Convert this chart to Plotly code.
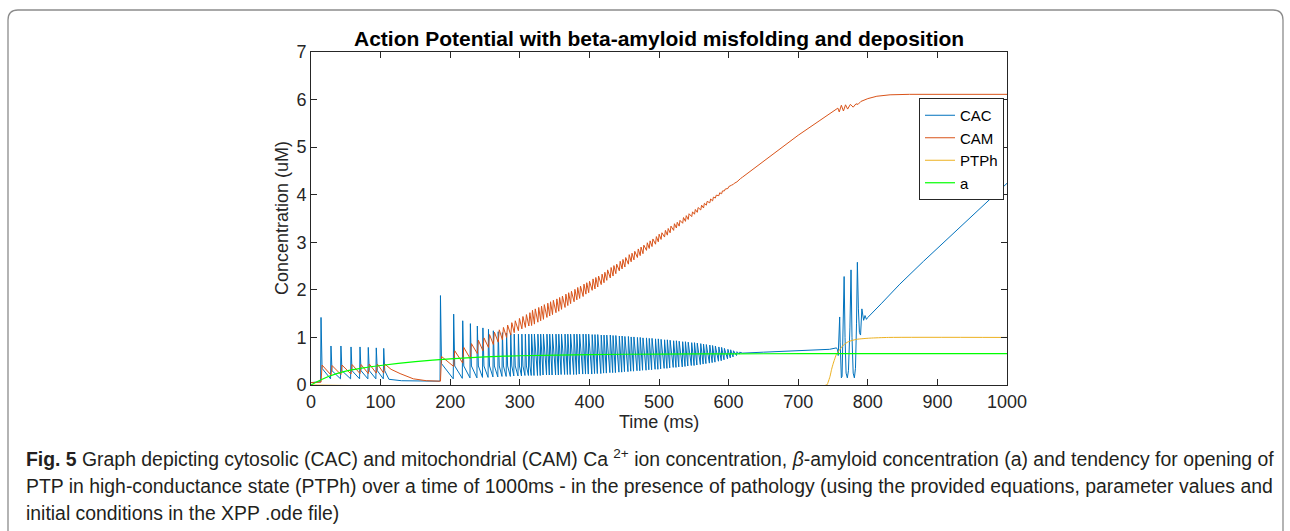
import plotly.graph_objects as go

# ---------------- data ----------------
# CAC (cytosolic Ca) : lead-in
cac_start_t = [0, 8]
cac_start_v = [0.05, 0.07]
# burst 1 spikes
cac_b1_t = [14.4, 28.7, 43.0, 57.5, 70.4, 82.3, 93.8, 104.5]
cac_b1_peak = [1.42, 0.82, 0.82, 0.80, 0.80, 0.79, 0.78, 0.77]
cac_b1_trough = [0.07, 0.13, 0.13, 0.13, 0.13, 0.13, 0.13, 0.13]
cac_b1_knee = [0.35, 0.30, 0.30, 0.30, 0.30, 0.30, 0.30, 0.30]
# quiet gap
cac_gap_t = [112, 130, 160, 184]
cac_gap_v = [0.12, 0.09, 0.08, 0.08]
# burst 2 spikes (sparse part)
cac_b2_t = [186, 205, 218, 229, 239, 247, 255, 262, 269, 275, 281, 287, 292, 298, 303, 308, 313]
cac_b2_peak = [1.88, 1.49, 1.35, 1.29, 1.24, 1.20, 1.17, 1.14, 1.12, 1.10, 1.09, 1.08, 1.07, 1.07, 1.07, 1.07, 1.07]
cac_b2_trough = [0.09, 0.13, 0.14, 0.15, 0.15, 0.16, 0.16, 0.17, 0.17, 0.18, 0.18, 0.18, 0.19, 0.19, 0.19, 0.20, 0.20]
cac_b2_knee = [0.45, 0.40, 0.40, 0.40, 0.40, 0.40, 0.40, 0.40, 0.40, 0.40, 0.40, 0.40, 0.40, 0.40, 0.40, 0.40, 0.40]
# dense spike train
dense_t = [317, 321, 326, 330, 334, 339, 343, 347, 352, 356, 360, 365, 369, 373, 378, 382, 386, 391, 395, 399,
           404, 408, 412, 417, 421, 425, 430,
           434, 438, 443, 447, 451, 456, 460, 464, 469, 473, 477,
           482, 486, 490, 495, 499, 503, 508, 512, 516, 521, 525,
           529, 534, 538, 542, 547, 551, 555, 560, 564, 568, 573,
           577, 581, 586, 590, 594, 599, 603, 607, 612, 616]
cac_dense_peak = [1.07, 1.07, 1.07, 1.07, 1.07, 1.07, 1.07, 1.07, 1.07, 1.07,
                  1.07, 1.07, 1.07, 1.07, 1.07, 1.07, 1.07, 1.07, 1.07, 1.07,
                  1.06, 1.06, 1.06, 1.05, 1.05, 1.05, 1.05,
                  1.04, 1.04, 1.03, 1.03, 1.02, 1.02, 1.01, 1.01, 1.00, 1.00, 0.99,
                  0.99, 0.98, 0.98, 0.97, 0.97, 0.96, 0.95, 0.95, 0.94, 0.93, 0.93,
                  0.92, 0.91, 0.91, 0.90, 0.89, 0.89, 0.88, 0.87, 0.86, 0.85, 0.84,
                  0.83, 0.82, 0.80, 0.79, 0.77, 0.75, 0.74, 0.72, 0.70, 0.69]
cac_dense_trough = [0.20, 0.20, 0.20, 0.20, 0.21, 0.21, 0.21, 0.21, 0.21, 0.21,
                    0.22, 0.22, 0.22, 0.22, 0.22, 0.22, 0.23, 0.23, 0.23, 0.23,
                    0.23, 0.24, 0.24, 0.24, 0.25, 0.25, 0.26,
                    0.26, 0.26, 0.27, 0.27, 0.28, 0.28, 0.29, 0.29, 0.30, 0.30, 0.31,
                    0.31, 0.32, 0.32, 0.33, 0.33, 0.34, 0.35, 0.35, 0.36, 0.37, 0.37,
                    0.38, 0.38, 0.39, 0.40, 0.41, 0.41, 0.42, 0.43, 0.44, 0.45, 0.46,
                    0.47, 0.48, 0.50, 0.51, 0.53, 0.55, 0.57, 0.59, 0.62, 0.65]
# tail after the train
cac_tail_t = [620, 650, 700, 745, 755, 756.5, 757.5, 759.6, 760.3, 761, 762, 763, 764.5, 766, 767.3, 768.8,
              770.6, 772.2, 774.3, 775.9, 777.3, 779, 780.7, 782.3, 783.8, 785, 786.5, 788, 789.6, 791.5,
              794, 796, 798, 800, 820, 846, 880, 920, 960, 1000]
cac_tail_v = [0.67, 0.69, 0.72, 0.75, 0.78, 0.74, 0.62, 1.43, 0.90, 0.30, 0.15, 0.18, 1.00, 2.28, 1.00, 0.25,
              0.15, 0.30, 1.20, 2.42, 1.00, 0.25, 0.15, 0.35, 1.30, 2.58, 1.60, 1.10, 1.05, 1.60,
              1.36, 1.46, 1.38, 1.42, 1.72, 2.12, 2.60, 3.15, 3.70, 4.24]

# CAM (mitochondrial Ca)
cam_start_t = [0]
cam_start_v = [0.05]
cam_b1_pre = [0.06, 0.21, 0.22, 0.23, 0.24, 0.24, 0.25, 0.25]
cam_b1_peak = [0.42, 0.41, 0.42, 0.43, 0.43, 0.44, 0.44, 0.44]
cam_gap_t = [115, 128, 147, 166, 180]
cam_gap_v = [0.33, 0.24, 0.13, 0.09, 0.08]
cam_b2_pre = [0.08, 0.39, 0.46, 0.55, 0.66, 0.72, 0.79, 0.85, 0.90, 0.95, 1.00, 1.05, 1.10, 1.14, 1.18, 1.21, 1.24]
cam_b2_peak = [0.60, 0.72, 0.79, 0.87, 0.94, 0.99, 1.06, 1.11, 1.16, 1.21, 1.26, 1.31, 1.35, 1.40, 1.44, 1.48, 1.52]
cam_dense_pre = [1.25, 1.28, 1.32, 1.35, 1.38, 1.42, 1.45, 1.48, 1.52, 1.55,
                 1.59, 1.63, 1.67, 1.71, 1.75, 1.79, 1.82, 1.86, 1.91, 1.94,
                 1.99, 2.02, 2.06, 2.11, 2.15, 2.20, 2.25,
                 2.29, 2.34, 2.40, 2.44, 2.48, 2.54, 2.59, 2.63, 2.68, 2.72, 2.76,
                 2.83, 2.87, 2.91, 2.96, 3.01, 3.06, 3.11, 3.15, 3.20, 3.25, 3.30,
                 3.34, 3.40, 3.44, 3.48, 3.54, 3.59, 3.63, 3.68, 3.72, 3.78, 3.83,
                 3.87, 3.93, 3.98, 4.02, 4.08, 4.13, 4.18, 4.22, 4.27, 4.33]
cam_dense_peak = [1.57, 1.60, 1.63, 1.66, 1.69, 1.72, 1.75, 1.78, 1.81, 1.84,
                  1.87, 1.91, 1.94, 1.97, 2.01, 2.05, 2.08, 2.12, 2.15, 2.18,
                  2.23, 2.26, 2.29, 2.33, 2.37, 2.42, 2.47,
                  2.51, 2.54, 2.60, 2.64, 2.68, 2.74, 2.77, 2.81, 2.86, 2.90, 2.94,
                  2.99, 3.03, 3.07, 3.12, 3.17, 3.20, 3.25, 3.29, 3.34, 3.39, 3.42,
                  3.46, 3.52, 3.56, 3.60, 3.64, 3.69, 3.73, 3.78, 3.82, 3.86, 3.91,
                  3.95, 3.99, 4.04, 4.08, 4.12, 4.17, 4.20, 4.24, 4.29, 4.34]
cam_tail_t = [620, 650, 674, 700, 730, 755, 757, 759, 762, 765, 768, 771, 775, 779, 783, 786, 790, 800, 813, 832, 860, 1000]
cam_tail_v = [4.37, 4.70, 4.97, 5.25, 5.55, 5.80, 5.82, 5.74, 5.88, 5.76, 5.89, 5.80, 5.90, 5.84, 5.91, 5.90, 5.96,
              6.02, 6.07, 6.10, 6.11, 6.11]

# PTPh
ptph_t = [0, 741, 743, 745.7, 748, 750.5, 753, 755, 760, 765, 772, 784, 803, 830, 1000]
ptph_v = [0, 0, 0.06, 0.18, 0.33, 0.46, 0.57, 0.65, 0.75, 0.84, 0.91, 0.96, 0.985, 1.0, 1.0]

# a (beta-amyloid)
a_t = [0, 10, 25, 50, 75, 100, 150, 200, 250, 300, 400, 500, 600, 800, 1000]
a_v = [0.0, 0.08, 0.18, 0.29, 0.36, 0.41, 0.49, 0.55, 0.59, 0.615, 0.64, 0.65, 0.655, 0.66, 0.66]

x_ticks = [0, 100, 200, 300, 400, 500, 600, 700, 800, 900, 1000]
y_ticks = [0, 1, 2, 3, 4, 5, 6, 7]

# ---------------- build traces ----------------
cac_x, cac_y = list(cac_start_t), list(cac_start_v)
for t, pk, tr, kn in zip(cac_b1_t, cac_b1_peak, cac_b1_trough, cac_b1_knee):
    cac_x += [t - 0.6, t, t + 1.5]
    cac_y += [tr, pk, kn]
cac_x += cac_gap_t
cac_y += cac_gap_v
for t, pk, tr, kn in zip(cac_b2_t, cac_b2_peak, cac_b2_trough, cac_b2_knee):
    cac_x += [t - 0.6, t, t + 1.5]
    cac_y += [tr, pk, kn]
for t, pk, tr in zip(dense_t, cac_dense_peak, cac_dense_trough):
    cac_x += [t - 0.6, t]
    cac_y += [tr, pk]
cac_x += cac_tail_t
cac_y += cac_tail_v

cam_x, cam_y = list(cam_start_t), list(cam_start_v)
for t, pre, pk in zip(cac_b1_t, cam_b1_pre, cam_b1_peak):
    cam_x += [t, t + 1.5]
    cam_y += [pre, pk]
cam_x += cam_gap_t
cam_y += cam_gap_v
for t, pre, pk in zip(cac_b2_t, cam_b2_pre, cam_b2_peak):
    cam_x += [t, t + 1.5]
    cam_y += [pre, pk]
for t, pre, pk in zip(dense_t, cam_dense_pre, cam_dense_peak):
    cam_x += [t, t + 1.2]
    cam_y += [pre, pk]
cam_x += cam_tail_t
cam_y += cam_tail_v

AX = "#262626"
FONT = "Liberation Sans, Arial, Helvetica, sans-serif"

fig = go.Figure()
fig.add_trace(go.Scatter(x=cac_x, y=cac_y, mode="lines", name="CAC",
                         line=dict(color="#0072BD", width=1)))
fig.add_trace(go.Scatter(x=cam_x, y=cam_y, mode="lines", name="CAM",
                         line=dict(color="#D95319", width=1)))
fig.add_trace(go.Scatter(x=ptph_t, y=ptph_v, mode="lines", name="PTPh",
                         line=dict(color="#EDB120", width=1, shape="spline", smoothing=0.6)))
fig.add_trace(go.Scatter(x=a_t, y=a_v, mode="lines", name="a",
                         line=dict(color="#00FF00", width=1.2, shape="spline", smoothing=0.8)))

L, R, T, B = 311, 1007, 52, 385
W, H = 1290, 531
pw, ph = R - L, B - T


def px(x):
    return (x - L) / pw


def py(y):
    return (B - y) / ph


fig.update_layout(
    width=W, height=H, autosize=False,
    margin=dict(l=L, r=W - R, t=T, b=H - B, pad=0),
    paper_bgcolor="white", plot_bgcolor="white",
    font=dict(family=FONT, size=18, color=AX),
    showlegend=True,
    legend=dict(x=px(919), y=py(98), xanchor="left", yanchor="top",
                bgcolor="white", bordercolor=AX, borderwidth=1,
                font=dict(size=15, color="black"), itemwidth=30,
                tracegroupgap=0),
    xaxis=dict(range=[0, 1000], tickvals=x_ticks, ticks="inside", ticklen=6,
               tickcolor=AX, showline=True, linecolor=AX, linewidth=1, mirror="ticks",
               showgrid=False, zeroline=False, tickfont=dict(size=18, color=AX)),
    yaxis=dict(range=[0, 7], tickvals=y_ticks, ticks="inside", ticklen=6,
               tickcolor=AX, showline=True, linecolor=AX, linewidth=1, mirror="ticks",
               showgrid=False, zeroline=False, tickfont=dict(size=18, color=AX)),
)

ann = [
    dict(text="<b>Action Potential with beta-amyloid misfolding and deposition</b>",
         x=0.5, y=py(38), font=dict(size=21, color="black")),
    dict(text="Time (ms)", x=0.5, y=py(422), font=dict(size=18, color=AX)),
    dict(text="Concentration (uM)", x=px(282), y=py(218), textangle=-90,
         font=dict(size=18, color=AX)),
]
cap_font = dict(family="Liberation Sans Narrow, Arial Narrow, Liberation Sans, sans-serif",
                size=19.4, color="#231f20")
captions = [
    "<b>Fig. 5</b> Graph depicting cytosolic (CAC) and mitochondrial (CAM) Ca <sup>2+</sup> ion concentration, "
    "<i>β</i>-amyloid concentration (a) and tendency for opening of",
    "PTP in high-conductance state (PTPh) over a time of 1000ms - in the presence of pathology (using the provided "
    "equations, parameter values and",
    "initial conditions in the XPP .ode file)",
]
for txt, yy in zip(captions, [458, 486, 513]):
    ann.append(dict(text=txt, x=px(24), y=py(yy), xanchor="left", font=cap_font))
for a in ann:
    a.setdefault("xanchor", "center")
    a.update(xref="paper", yref="paper", yanchor="middle", showarrow=False)
fig.update_layout(annotations=ann)

# rounded frame around the figure
x0, x1 = px(8), px(1283)
yt, yb = py(10), py(560)
rx, ry = 10 / pw, 10 / ph
path = (f"M {x0},{yb} L {x0},{yt - ry} Q {x0},{yt} {x0 + rx},{yt} "
        f"L {x1 - rx},{yt} Q {x1},{yt} {x1},{yt - ry} L {x1},{yb}")
fig.add_shape(type="path", path=path, xref="paper", yref="paper",
              line=dict(color="#8c8c8c", width=1.3), layer="below")

fig.write_html("out.html", config={"displayModeBar": False},
               post_script="document.body.style.margin='0';")
